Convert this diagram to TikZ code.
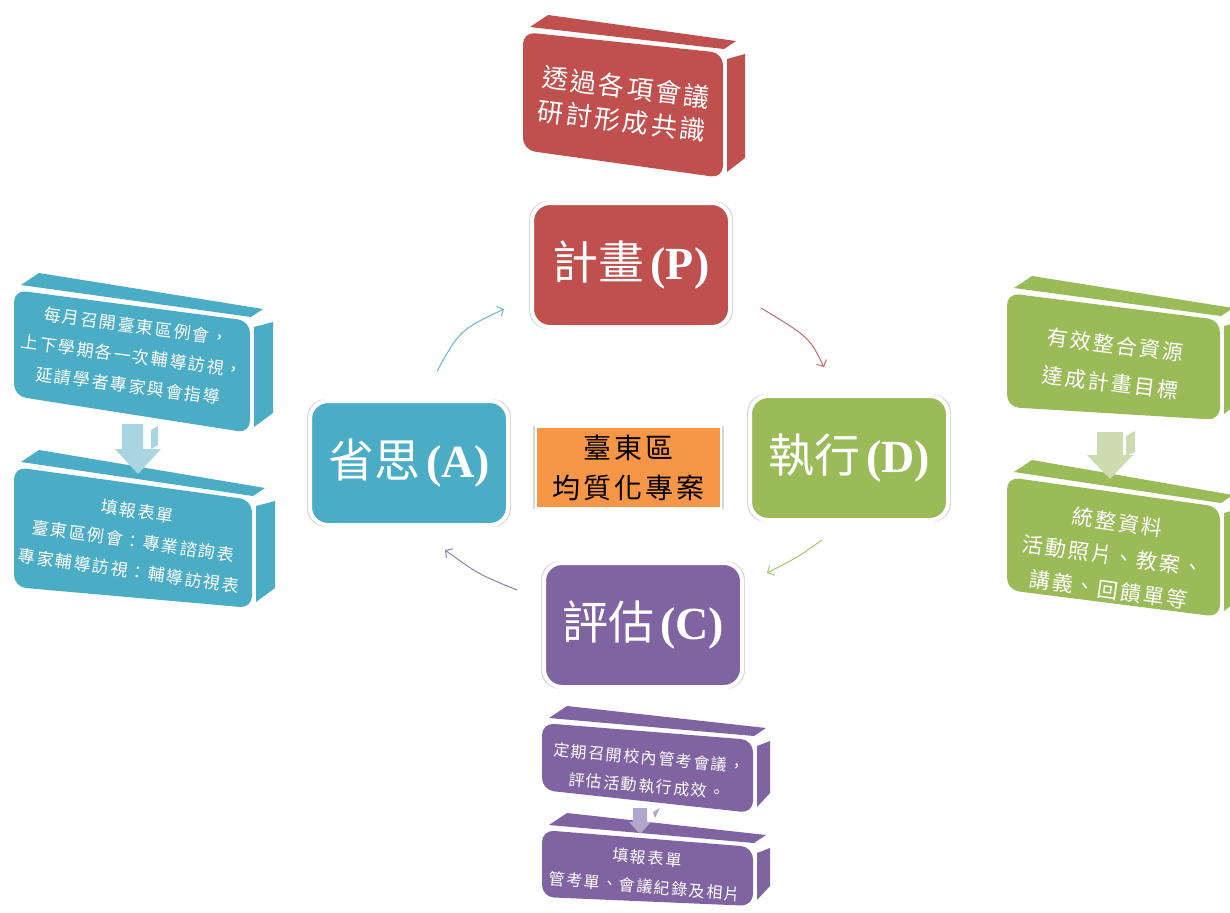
\documentclass[tikz,border=0pt]{standalone}
\usepackage{fontspec}
\setmainfont{Liberation Serif}
\newfontfamily\cjk{Noto Sans CJK TC}
\newfontfamily\cjksp[LetterSpace=10]{Noto Sans CJK TC}
\usetikzlibrary{arrows.meta,shadows}
\definecolor{cred}{HTML}{C0504D}
\definecolor{cgreen}{HTML}{9BBB59}
\definecolor{cpurple}{HTML}{8064A2}
\definecolor{cblue}{HTML}{4BACC6}
\definecolor{corange}{HTML}{F79646}
\definecolor{lblue}{HTML}{A9D4E1}
\definecolor{lgreen}{HTML}{CCDBB0}
\definecolor{lpurple}{HTML}{B3A6CC}
% color x1 yt1 x2 yt2 yb2 yb1 depth
\newcommand\sideblock[8]{%
  \fill[#1] (#2+7,#3-5) -- (#2+25,#3-17) -- (#4+13,#5-12) -- (#4+1,#5-4) -- cycle;
  \fill[#1] (#4+4,#5+6) -- (#4+#8,#5+1) -- (#4+#8,#6-20) -- (#4+4,#6-6) -- cycle;
  \fill[#1,rounded corners=12pt] (#2,#3) -- (#4,#5) -- (#4,#6) -- (#2,#7) -- cycle;
}
\newcommand\pdcatext[2]{\fontsize{46}{52}\selectfont{\cjk #1}\hspace{6pt}{\bfseries #2}}
\tikzset{
  pdca/.style={fill=#1, draw=white, line width=4pt, rounded corners=18pt,
    minimum width=198pt, minimum height=124pt, inner sep=0pt, text=white,
    drop shadow={opacity=0.3, shadow xshift=0pt, shadow yshift=0pt, shadow scale=1.03}},
  stext/.style={text=white, align=center, inner sep=0pt},
  conn/.style={line width=1pt, -{Straight Barb[length=5pt,width=11pt]}},
}
\begin{document}
\begin{tikzpicture}[x=1pt,y=-1pt]
\useasboundingbox (0,0) rectangle (1230,912);
\clip (0,0) rectangle (1230,912);
\fill[white] (0,0) rectangle (1230,912);

% side blocks
\sideblock{cred}{523}{32}{723}{53}{178}{150}{22}
\sideblock{cblue}{14}{290}{250}{321}{433}{396}{23}
\sideblock{cblue}{14}{467}{252}{500}{608}{587}{23}
\sideblock{cgreen}{1007}{293}{1220}{320}{420}{407}{22}
\sideblock{cgreen}{1007}{477}{1220}{507}{617}{590}{22}
\sideblock{cpurple}{542}{723}{753}{740}{813}{790}{17}
\sideblock{cpurple}{542}{830}{753}{847}{906}{897}{17}

% down arrows
\fill[lblue] (122,424) -- (143,424) -- (143,449) -- (161,449) -- (138,474) -- (115,449) -- (122,449) -- cycle;
\fill[lblue] (151,430) -- (158,426) -- (158,445) -- (151,449) -- cycle;
\fill[lgreen] (1097,432) -- (1123,432) -- (1123,455) -- (1133,455) -- (1110,479) -- (1087,455) -- (1097,455) -- cycle;
\fill[lgreen] (1126,436) -- (1135,431) -- (1135,452) -- (1126,456) -- cycle;
\fill[lpurple] (633,808) -- (647,808) -- (647,822) -- (651,822) -- (640,834) -- (629,822) -- (633,822) -- cycle;
\fill[lpurple] (653,812) -- (660,808) -- (655,818) -- cycle;

% side texts
\node[stext, font=\cjksp\fontsize{26}{34}\selectfont, rotate=-7] (tP) at (624,104) {透過各項會議\\研討形成共識};
\node[stext, font=\cjksp\fontsize{17}{30}\selectfont, rotate=-7.5] (tA1) at (132,356) {每月召開臺東區例會，\\上下學期各一次輔導訪視，\\延請學者專家與會指導};
\node[stext, font=\cjksp\fontsize{17}{30}\selectfont, rotate=-8] (tA2) at (133,541) {填報表單\\臺東區例會：專業諮詢表\\專家輔導訪視：輔導訪視表};
\node[stext, font=\cjksp\fontsize{21}{38}\selectfont, rotate=-7] (tD1) at (1113,364) {有效整合資源\\達成計畫目標};
\node[stext, font=\cjksp\fontsize{21}{34}\selectfont, rotate=-8] (tD2) at (1113,556) {統整資料\\活動照片、教案、\\講義、回饋單等};
\node[stext, font=\cjksp\fontsize{16}{28}\selectfont, rotate=-5] (tC1) at (648,772) {定期召開校內管考會議，\\評估活動執行成效。};
\node[stext, font=\cjksp\fontsize{16}{29}\selectfont, rotate=-5] (tC2) at (646,872) {填報表單\\管考單、會議紀錄及相片};

% main PDCA boxes
\node[pdca=cred] (P) at (631,265) {\pdcatext{計畫}{(P)}};
\node[pdca=cgreen] (D) at (849,458) {\pdcatext{執行}{(D)}};
\node[pdca=cpurple] (C) at (643,625) {\pdcatext{評估}{(C)}};
\node[pdca=cblue] (A) at (409,463) {\pdcatext{省思}{(A)}};

% center
\node[fill=corange, draw=white, line width=2.5pt, minimum width=185pt, minimum height=81pt,
  inner sep=0pt, align=center, drop shadow={opacity=0.3, shadow xshift=0pt, shadow yshift=0pt, shadow scale=1.03},
  font=\cjksp\fontsize{28}{40}\selectfont] (ctr) at (628.5,467.5) {臺東區\\均質化專案};

% cycle connectors
\coordinate (a1) at (437,371); \coordinate (a2) at (504,309);
\coordinate (b1) at (761,308); \coordinate (b2) at (824,367);
\coordinate (c1) at (822,540); \coordinate (c2) at (767,573);
\coordinate (d1) at (517,590); \coordinate (d2) at (445,550);
\draw[conn, cblue!85] (a1) .. controls (460,330) .. (a2);
\draw[conn, cred!85] (b1) .. controls (809,337) .. (b2);
\draw[conn, cgreen!85] (c1) .. controls (798,557) .. (c2);
\draw[conn, cpurple!85] (d1) .. controls (478,574) .. (d2);
\end{tikzpicture}
\end{document}
